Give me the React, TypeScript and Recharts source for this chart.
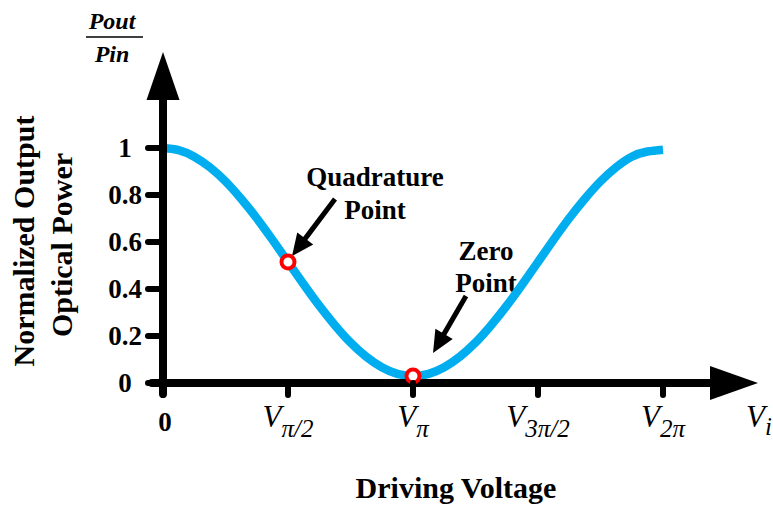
import React from 'react';
import { ComposedChart, Line, XAxis, YAxis, ReferenceLine, ReferenceDot } from 'recharts';

// Driving voltage, in units of π (0 … 2π)
const phase = [
  0, 0.0625, 0.125, 0.1875, 0.25, 0.3125, 0.375, 0.4375, 0.5, 0.5625, 0.625,
  0.6875, 0.75, 0.8125, 0.875, 0.9375, 1, 1.0625, 1.125, 1.1875, 1.25, 1.3125,
  1.375, 1.4375, 1.5, 1.5625, 1.625, 1.6875, 1.75, 1.8125, 1.875, 1.9375, 2,
];

// Normalized output optical power Pout/Pin
const power = [
  1.0, 0.991, 0.963, 0.918, 0.858, 0.784, 0.701, 0.61, 0.515, 0.42, 0.329,
  0.246, 0.172, 0.112, 0.067, 0.039, 0.03, 0.039, 0.067, 0.112, 0.172, 0.246,
  0.329, 0.42, 0.515, 0.61, 0.701, 0.784, 0.858, 0.918, 0.963, 0.985, 0.993,
];

// Bias points marked on the transfer curve
const quadraturePoint = { x: 0.5, y: 0.515 };
const zeroPoint = { x: 1, y: 0.03 };

// Axis ticks and their labels
const xTicks = [0, 0.5, 1, 1.5, 2];
const xTickSubscripts = ['', 'π/2', 'π', '3π/2', '2π'];
const yTicks = [0, 0.2, 0.4, 0.6, 0.8, 1];
const yTickLabels = ['0', '0.2', '0.4', '0.6', '0.8', '1'];

const curve = phase.map((x, i) => ({ x, y: power[i] }));

const SERIF = '"Liberation Serif", "Times New Roman", Times, serif';
const CURVE_COLOR = '#00AEEF';

const XTick = (props: any) => {
  const { x, y, payload } = props;
  const i = xTicks.indexOf(payload.value);
  const sub = xTickSubscripts[i];
  return (
    <g>
      <line x1={x} y1={y} x2={x} y2={y + 12} stroke="#000" strokeWidth={6} strokeLinecap="round" />
      {sub === '' ? (
        <text x={x + 2} y={y + 48} textAnchor="middle" fontFamily={SERIF} fontWeight="bold" fontSize={27} fill="#000">
          0
        </text>
      ) : (
        <text x={x} y={y + 44} textAnchor="middle" fontFamily={SERIF} fontStyle="italic" fontSize={31} fill="#000">
          V
          <tspan dy={10} fontSize={25}>
            {sub}
          </tspan>
        </text>
      )}
    </g>
  );
};

const YTick = (props: any) => {
  const { x, y, payload } = props;
  const i = yTicks.indexOf(payload.value);
  return (
    <g>
      <line x1={x - 15} y1={y} x2={x} y2={y} stroke="#000" strokeWidth={6} strokeLinecap="round" />
      <text x={x - 38} y={y} dy="0.34em" textAnchor="middle" fontFamily={SERIF} fontWeight="bold" fontSize={27} fill="#000">
        {yTickLabels[i]}
      </text>
    </g>
  );
};

// Line with a filled triangular head at its second end point
const arrow = (width: number, headLen: number, headWidth: number, cap: 'round' | 'butt') => (p: any) => {
  const { x1, y1, x2, y2 } = p;
  const dx = x2 - x1;
  const dy = y2 - y1;
  const len = Math.hypot(dx, dy) || 1;
  const ux = dx / len;
  const uy = dy / len;
  const bx = x2 - ux * headLen;
  const by = y2 - uy * headLen;
  const nx = -uy;
  const ny = ux;
  const h = headWidth / 2;
  return (
    <g>
      <line x1={x1} y1={y1} x2={bx + ux * 2} y2={by + uy * 2} stroke="#000" strokeWidth={width} strokeLinecap={cap} />
      <polygon points={`${x2},${y2} ${bx + nx * h},${by + ny * h} ${bx - nx * h},${by - ny * h}`} fill="#000" />
    </g>
  );
};

const marker = (p: any) => (
  <circle cx={p.cx} cy={p.cy} r={6.5} fill="#fff" stroke="#FF0000" strokeWidth={4} />
);

export default function App() {
  return (
    <div style={{ position: 'absolute', left: 0, top: 0, width: 773, height: 505, background: '#fff' }}>
      <ComposedChart
        width={773}
        height={505}
        data={curve}
        margin={{ top: 148, right: 110, bottom: 62, left: 103 }}
      >
        <XAxis
          dataKey="x"
          type="number"
          domain={[0, 2]}
          ticks={xTicks}
          interval={0}
          height={60}
          axisLine={false}
          tickLine={false}
          tickSize={0}
          tickMargin={0}
          tick={<XTick />}
        />
        <YAxis
          type="number"
          domain={[0, 1]}
          ticks={yTicks}
          interval={0}
          width={60}
          axisLine={false}
          tickLine={false}
          tickSize={0}
          tickMargin={0}
          tick={<YTick />}
        />
        <Line
          type="natural"
          dataKey="y"
          stroke={CURVE_COLOR}
          strokeWidth={8.5}
          dot={false}
          activeDot={false}
          isAnimationActive={false}
        />
        {/* axes drawn as arrows */}
        <ReferenceLine
          segment={[{ x: -0.044, y: 0 }, { x: 2.38, y: 0 }]}
          ifOverflow="visible"
          shape={arrow(8, 48, 34, 'round')}
        />
        <ReferenceLine
          segment={[{ x: 0, y: -0.047 }, { x: 0, y: 1.409 }]}
          ifOverflow="visible"
          shape={arrow(8, 48, 33, 'round')}
        />
        {/* annotation arrows */}
        <ReferenceLine
          segment={[{ x: 0.688, y: 0.783 }, { x: 0.516, y: 0.54 }]}
          ifOverflow="visible"
          shape={arrow(5, 22, 20, 'butt')}
        />
        <ReferenceLine
          segment={[{ x: 1.212, y: 0.37 }, { x: 1.08, y: 0.128 }]}
          ifOverflow="visible"
          shape={arrow(5, 22, 20, 'butt')}
        />
        <ReferenceDot x={quadraturePoint.x} y={quadraturePoint.y} ifOverflow="visible" shape={marker} />
        <ReferenceDot x={zeroPoint.x} y={zeroPoint.y} ifOverflow="visible" shape={marker} />

        {/* Pout / Pin above the vertical axis */}
        <g fontFamily={SERIF} fontWeight="bold" fontStyle="italic" fontSize={24} fill="#000">
          <text x={112} y={29} textAnchor="middle">Pout</text>
          <text x={112} y={62} textAnchor="middle">Pin</text>
        </g>
        <line x1={86} y1={37} x2={143} y2={37} stroke="#000" strokeWidth={1.5} />

        {/* horizontal axis variable */}
        <text x={746} y={427} fontFamily={SERIF} fontStyle="italic" fontSize={31} fill="#000">
          V<tspan dy={8} fontSize={25}>i</tspan>
        </text>

        {/* axis titles */}
        <g fontFamily={SERIF} fontWeight="bold" fontSize={30} fill="#000">
          <text x={456} y={498} textAnchor="middle">Driving Voltage</text>
          <text transform="rotate(-90)" x={-241} y={34} textAnchor="middle">Normalized Output</text>
          <text transform="rotate(-90)" x={-245} y={72} textAnchor="middle">Optical Power</text>
        </g>

        {/* point annotations */}
        <g fontFamily={SERIF} fontWeight="bold" fontSize={27} fill="#000" textAnchor="middle">
          <text x={375} y={186}>Quadrature</text>
          <text x={375} y={219}>Point</text>
          <text x={486} y={260}>Zero</text>
          <text x={486} y={292}>Point</text>
        </g>
      </ComposedChart>
    </div>
  );
}
